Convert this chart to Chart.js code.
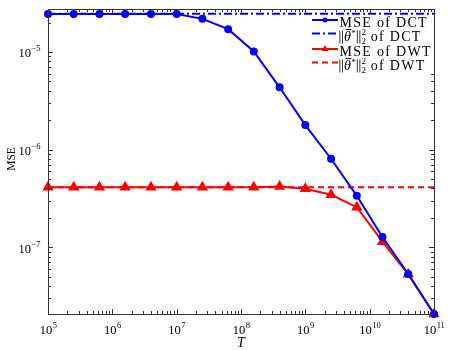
<!DOCTYPE html>
<html lang="en">
<head>
<meta charset="UTF-8">
<title>MSE vs T</title>
<script src="https://cdn.jsdelivr.net/npm/chart.js"></script>
<style>
    body { margin: 0; background: #fff; }
</style>
</head>
<body>
<canvas id="myChart" width="450" height="350"></canvas>
<script>
    // sample sizes T (log spaced)
    const T = [1e5, 2.51e5, 6.31e5, 1.58e6, 3.98e6, 1e7, 2.51e7, 6.31e7, 1.58e8, 3.98e8,
               1e9, 2.51e9, 6.31e9, 1.58e10, 3.98e10, 1e11];
    const mseDCT = [2.45e-5, 2.45e-5, 2.45e-5, 2.45e-5, 2.45e-5, 2.45e-5, 2.18e-5, 1.71e-5,
                    1.01e-5, 4.34e-6, 1.78e-6, 8.05e-7, 3.36e-7, 1.27e-7, 5.32e-8, 2.07e-8];
    const mseDWT = [4.12e-7, 4.12e-7, 4.12e-7, 4.12e-7, 4.12e-7, 4.12e-7, 4.12e-7, 4.12e-7,
                    4.12e-7, 4.19e-7, 3.96e-7, 3.44e-7, 2.57e-7, 1.14e-7, 5.28e-8, 2.07e-8];
    const normDCT = 2.46e-5;
    const normDWT = 4.12e-7;

    const xTicks = [1e5, 1e6, 1e7, 1e8, 1e9, 1e10, 1e11];
    const xTickExp = ['5', '6', '7', '8', '9', '10', '11'];
    const yTicks = [1e-7, 1e-6, 1e-5];
    const yTickExp = ['\u22127', '\u22126', '\u22125'];

    const SERIF = '"Liberation Serif", "DejaVu Serif", serif';

    function pts(xs, ys) {
        return xs.map((x, i) => ({ x: x, y: ys[i] }));
    }

    const data = {
        datasets: [{
            label: 'MSE of DCT',
            data: pts(T, mseDCT),
            borderColor: '#0000ff',
            backgroundColor: '#0000ff',
            borderWidth: 2,
            pointStyle: 'circle',
            pointRadius: 3,
            clip: false
        }, {
            label: '\u2016\u03b8\u0304*\u2016\u2082\u00b2 of DCT',
            data: [{ x: T[0], y: normDCT }, { x: T[T.length - 1], y: normDCT }],
            borderColor: '#0000ff',
            borderWidth: 2,
            borderDash: [8, 3, 2, 3],
            pointRadius: 0
        }, {
            label: 'MSE of DWT',
            data: pts(T, mseDWT),
            borderColor: '#ff0000',
            backgroundColor: '#ff0000',
            borderWidth: 2,
            pointStyle: 'triangle',
            pointRadius: 4.5,
            clip: false
        }, {
            label: '\u2016\u03b8\u0304*\u2016\u2082\u00b2 of DWT',
            data: [{ x: T[0], y: normDWT }, { x: T[T.length - 1], y: normDWT }],
            borderColor: '#ff0000',
            borderWidth: 2,
            borderDash: [6, 4],
            pointRadius: 0
        }]
    };

    // draws "10" with a raised exponent
    function powerLabel(ctx, exp, x, y, align) {
        ctx.font = '12.5px ' + SERIF;
        const w1 = ctx.measureText('10').width;
        ctx.font = '8.5px ' + SERIF;
        const w2 = ctx.measureText(exp).width;
        let x0 = align === 'center' ? x - (w1 + w2) / 2 : x - w1 - w2;
        ctx.font = '12.5px ' + SERIF;
        ctx.fillText('10', x0, y);
        ctx.font = '8.5px ' + SERIF;
        ctx.fillText(exp, x0 + w1 + 0.5, y - 6);
    }

    // ||theta-bar*||_2^2 label
    function normLabel(ctx, x, y, suffix) {
        const bars = (bx) => {
            ctx.fillRect(bx, y - 10, 0.8, 13);
            ctx.fillRect(bx + 2.6, y - 10, 0.8, 13);
        };
        bars(x + 0.5);
        x += 5;
        ctx.font = 'italic 14px ' + SERIF;
        ctx.fillText('\u03b8', x, y);
        const wt = ctx.measureText('\u03b8').width;
        ctx.fillRect(x + 1.5, y - 11.5, wt - 1, 0.9);
        x += wt + 0.5;
        ctx.font = '9px ' + SERIF;
        ctx.fillText('*', x, y - 5);
        x += ctx.measureText('*').width + 1;
        bars(x);
        x += 4.5;
        ctx.font = '9px ' + SERIF;
        ctx.fillText('2', x, y - 6);
        ctx.fillText('2', x, y + 3);
        x += ctx.measureText('2').width;
        ctx.font = '14px ' + SERIF;
        ctx.letterSpacing = '1.3px';
        ctx.fillText(suffix, x, y);
        ctx.letterSpacing = '0px';
    }

    const legendRows = [20, 33.5, 49, 62.5];

    const frame = {
        id: 'frame',
        afterDatasetsDraw(chart) {
            const ctx = chart.ctx, a = chart.chartArea;
            const xs = chart.scales.x, ys = chart.scales.y;
            ctx.save();
            ctx.strokeStyle = '#333';
            ctx.lineWidth = 1;
            ctx.strokeRect(a.left + 0.5, a.top + 0.5, a.right - a.left, a.bottom - a.top);

            // inward ticks on all four sides
            ctx.beginPath();
            for (let e = 5; e <= 11; e++) {
                for (let m = 1; m <= 9; m++) {
                    const v = m * Math.pow(10, e);
                    if (v < xs.min * 0.999 || v > xs.max * 1.001) continue;
                    const px = Math.round(xs.getPixelForValue(v)) + 0.5;
                    const len = m === 1 ? 5 : 3;
                    ctx.moveTo(px, a.bottom); ctx.lineTo(px, a.bottom - len);
                    ctx.moveTo(px, a.top); ctx.lineTo(px, a.top + len);
                }
            }
            for (let e = -9; e <= -4; e++) {
                for (let m = 1; m <= 9; m++) {
                    const v = m * Math.pow(10, e);
                    if (v < ys.min || v > ys.max) continue;
                    const py = Math.round(ys.getPixelForValue(v)) + 0.5;
                    const len = m === 1 ? 5 : 3;
                    ctx.moveTo(a.left, py); ctx.lineTo(a.left + len, py);
                    ctx.moveTo(a.right, py); ctx.lineTo(a.right - len, py);
                }
            }
            ctx.stroke();

            // tick labels
            ctx.fillStyle = '#000';
            ctx.textBaseline = 'alphabetic';
            ctx.textAlign = 'left';
            xTicks.forEach((v, i) => powerLabel(ctx, xTickExp[i], xs.getPixelForValue(v), 334, 'center'));
            yTicks.forEach((v, i) => powerLabel(ctx, yTickExp[i], 40, ys.getPixelForValue(v) + 5.5, 'right'));

            // axis titles
            ctx.textAlign = 'center';
            ctx.font = 'italic 14px ' + SERIF;
            ctx.fillText('T', (a.left + a.right) / 2, 347);
            ctx.save();
            ctx.translate(15, 159);
            ctx.rotate(-Math.PI / 2);
            ctx.font = '11.5px ' + SERIF;
            ctx.fillText('MSE', 0, 0);
            ctx.restore();

            // legend
            ctx.fillStyle = '#fff';
            ctx.fillRect(309, 15.5, a.right - 309, 54);
            ctx.textAlign = 'left';
            chart.data.datasets.forEach((ds, i) => {
                const y = legendRows[i];
                ctx.strokeStyle = ds.borderColor;
                ctx.lineWidth = ds.borderWidth;
                ctx.setLineDash(ds.borderDash || []);
                ctx.beginPath();
                ctx.moveTo(312, y); ctx.lineTo(338, y);
                ctx.stroke();
                ctx.setLineDash([]);
                if (ds.pointRadius > 0) {
                    ctx.fillStyle = ds.backgroundColor;
                    Chart.helpers.drawPoint(ctx, {
                        pointStyle: ds.pointStyle, radius: ds.pointRadius - 0.5, borderWidth: 0
                    }, 325, y);
                }
                ctx.fillStyle = '#000';
                if (ds.label.indexOf('\u2016') === 0) {
                    normLabel(ctx, 339, y + 7, ds.label.slice(ds.label.lastIndexOf(' of')));
                } else {
                    ctx.font = '14px ' + SERIF;
                    ctx.letterSpacing = '1.3px';
                    ctx.fillText(ds.label, 339.5, y + 7);
                    ctx.letterSpacing = '0px';
                }
            });
            ctx.restore();
        }
    };

    const config = {
        type: 'line',
        data: data,
        options: {
            responsive: false,
            animation: false,
            devicePixelRatio: 1,
            layout: { padding: { left: 48, right: 16, top: 9, bottom: 36 } },
            plugins: { legend: { display: false }, tooltip: { enabled: false } },
            scales: {
                x: { type: 'logarithmic', min: 1e5, max: 1e11, display: false },
                y: { type: 'logarithmic', min: 2.07e-8, max: 2.75e-5, display: false }
            }
        },
        plugins: [frame]
    };

    const myChart = new Chart(document.getElementById('myChart'), config);
</script>
</body>
</html>
